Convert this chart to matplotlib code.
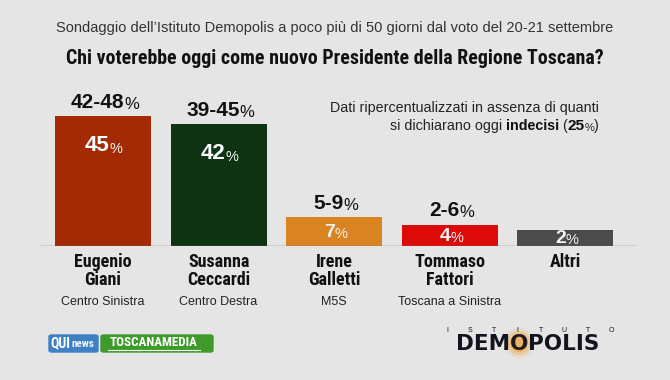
import matplotlib.pyplot as plt
import matplotlib.patches as mpatches
from matplotlib import font_manager as fm
from matplotlib.text import Annotation
import numpy as np

plt.rcParams['font.family'] = ['Liberation Sans', 'DejaVu Sans']

# dati sondaggio Demopolis - Regionali Toscana
candidati = ['Eugenio\nGiani', 'Susanna\nCeccardi', 'Irene\nGalletti', 'Tommaso\nFattori', 'Altri']
coalizioni = ['Centro Sinistra', 'Centro Destra', 'M5S', 'Toscana a Sinistra', '']
stima = [45, 42, 7, 4, 2]
forbice_min = [42, 39, 5, 2, None]
forbice_max = [48, 45, 9, 6, None]
indecisi = 25
colori = ['#A42A05', '#0E3313', '#DA8421', '#DD0A0A', '#4B4B4B']

BG = '#e5e5e5'
base = -4  # piccolo "zoccolo" sotto lo zero come nell'originale


def font_condensato(peso=700):
    # cerca un font bold stretto (tipo Helvetica Condensed) tra quelli installati
    scelte = []
    for f in fm.fontManager.ttflist:
        w = f.weight if isinstance(f.weight, int) else fm.weight_dict.get(f.weight, 400)
        s = f.stretch if isinstance(f.stretch, int) else fm.stretch_dict.get(f.stretch, 500)
        stretto = s < 500 or 'Narrow' in f.name or 'Condensed' in f.name
        if stretto and f.style == 'normal':
            pref = 0 if 'Liberation' in f.name else (1 if 'Roboto' in f.name else 2)
            scelte.append((abs(w - peso), pref, f.fname))
    if scelte:
        scelte.sort()
        return fm.FontProperties(fname=scelte[0][2])
    return fm.FontProperties(family='Liberation Sans', weight='bold')


COND = font_condensato()

fig = plt.figure(figsize=(6.7, 3.8), dpi=100)
fig.patch.set_facecolor(BG)
renderer = fig.canvas.get_renderer()


def adatta(t, larghezza):
    # scala la dimensione del testo per ottenere la larghezza voluta (px)
    w = t.get_window_extent(renderer).width
    t.set_fontsize(t.get_fontsize() * larghezza / w)


def accanto(testo, rif, xy, **kw):
    # testo agganciato a un altro testo, a livello figura
    a = Annotation(testo, xy=xy, xycoords=rif, textcoords='offset points',
                   annotation_clip=False, **kw)
    a.set_zorder(5)
    return fig.add_artist(a)


# asse barre: da x=40px a 637px, linea di base a y=246px
ax = fig.add_axes([40 / 670, (380 - 246) / 380, 597 / 670, 186 / 380])
ax.set_facecolor(BG)
x = np.arange(len(candidati))
ax.bar(x, np.array(stima) - base, bottom=base, width=0.83, color=colori, zorder=2)
ax.axhline(base, color='#707070', lw=1.0, zorder=3)
ax.set_xlim(-0.545, 4.62)
ax.set_ylim(base, base + 186 / 2.65)
ax.axis('off')

for i, v in enumerate(stima):
    # forbice sopra la barra
    if forbice_min[i] is not None:
        t = ax.annotate(f'{forbice_min[i]}-{forbice_max[i]}', xy=(i, v), xytext=(-4, 6),
                        textcoords='offset points', ha='center', va='baseline',
                        fontsize=15, fontweight='bold', color='#111111',
                        annotation_clip=False)
        ax.annotate('%', xy=(1, 0), xycoords=t, ha='left', va='bottom',
                    fontsize=12, color='#111111')
    # stima dentro la barra
    if v > 20:
        t = ax.annotate(f'{v}', xy=(i, v), xytext=(-4, -25), textcoords='offset points',
                        ha='center', va='baseline', fontsize=16, fontweight='bold',
                        color='white')
    else:
        t = ax.annotate(f'{v}', xy=(i, (v + base) / 2), xytext=(-3.5, -0.5),
                        textcoords='offset points', ha='center', va='center',
                        fontsize=14, fontweight='bold', color='#f4f4f4')
    ax.annotate('%', xy=(1, 0), xycoords=t, ha='left', va='bottom',
                fontsize=10.5, color='#f4f4f4')

    # nome candidato e coalizione
    ax.annotate(candidati[i], xy=(i, base), xytext=(0, -5), textcoords='offset points',
                ha='center', va='top', fontproperties=COND, fontsize=13,
                color='#111111', linespacing=0.98, annotation_clip=False)
    if coalizioni[i]:
        ax.annotate(coalizioni[i], xy=(i, base), xytext=(0, -42.5), textcoords='offset points',
                    ha='center', va='baseline', fontsize=9, color='#222222',
                    annotation_clip=False)

# titoli
sub = fig.text(0.5, (380 - 31.7) / 380,
               "Sondaggio dell\u2019Istituto Demopolis a poco più di 50 giorni dal voto del 20-21 settembre",
               ha='center', va='baseline', fontsize=9.5, color='#333333')
adatta(sub, 556)
tit = fig.text(0.5, (380 - 64) / 380, 'Chi voterebbe oggi come nuovo Presidente della Regione Toscana?',
               ha='center', va='baseline', fontproperties=COND, fontsize=15, color='#111111')
adatta(tit, 535)

# nota indecisi
nota = fig.text(599 / 670, (380 - 111.7) / 380, 'Dati ripercentualizzati in assenza di quanti',
                ha='right', va='baseline', fontsize=9.5, color='#222222')
adatta(nota, 266)
fs_nota = nota.get_fontsize()
pezzi = [(')', 'normal', 1.0, 0), ('%', 'normal', 0.78, 0), (str(indecisi), 'bold', 1.08, 0),
         ('(', 'normal', 1.0, 0), ('indecisi', 'bold', 1.0, -2.5),
         ('si dichiarano oggi', 'normal', 1.0, -2.5)]
prev = None
for testo, peso, scala, gap in pezzi:
    colore = '#111111' if peso == 'bold' else '#222222'
    if prev is None:
        prev = fig.text(599 / 670, (380 - 132.7) / 380, testo, ha='right', va='bottom',
                        fontsize=fs_nota * scala, fontweight=peso, color=colore)
    else:
        prev = accanto(testo, prev, (0, 0), xytext=(gap, 0), ha='right', va='bottom',
                       fontsize=fs_nota * scala, fontweight=peso, color=colore)


# loghi in basso
def px(xp, yp):
    return xp / 670, (380 - yp) / 380


qx, qy = px(49, 352)
fig.patches.append(mpatches.FancyBboxPatch((qx, qy), 49 / 670, 17 / 380,
                                           boxstyle='round,pad=0,rounding_size=0.004',
                                           transform=fig.transFigure, color='#3f80c4'))
qui = fig.text(*px(50.5, 343.5), 'QUI', ha='left', va='center', fontproperties=COND,
               fontsize=10, color='white', zorder=5)
accanto('news', qui, (1, 0.12), xytext=(0.5, 0), ha='left', va='bottom',
        fontproperties=COND, fontsize=8, color='#eef4fb')
tx, ty = px(101, 352)
fig.patches.append(mpatches.FancyBboxPatch((tx, ty), 112 / 670, 17 / 380,
                                           boxstyle='round,pad=0,rounding_size=0.004',
                                           transform=fig.transFigure, color='#3e9b2b'))
tm = fig.text(*px(154, 342.5), 'TOSCANAMEDIA', ha='center', va='center',
              fontproperties=COND, fontsize=9, color='white', zorder=5)
adatta(tm, 88)
fig.add_artist(plt.Line2D([108 / 670, 200 / 670], [(380 - 349.5) / 380] * 2,
                          transform=fig.transFigure, color='white', lw=0.8, zorder=5))

# logo Demopolis
for r, a in [(15, 0.15), (12, 0.3), (9, 0.55)]:
    fig.patches.append(mpatches.Ellipse(px(519, 343), 2 * r / 670, 2 * r / 380,
                                        transform=fig.transFigure, color='#f0a030',
                                        alpha=a, lw=0))
o = fig.text(*px(519, 350), 'O', ha='center', va='baseline', fontsize=15.5,
             fontweight='bold', family='DejaVu Sans', color='#1c1a22', zorder=5)
accanto('DEM', o, (0, 0), xytext=(0, 0), ha='right', va='bottom', fontsize=15.5,
        fontweight='bold', family='DejaVu Sans', color='#141420')
accanto('POLIS', o, (1, 0), xytext=(0, 0), ha='left', va='bottom', fontsize=15.5,
        fontweight='bold', family='DejaVu Sans', color='#141420')
for lettera, xp in zip('ISTITUTO', np.linspace(447, 611, 8)):
    fig.text(*px(xp, 331), lettera, ha='center', va='center', fontsize=5,
             color='#141420', zorder=5)

fig.savefig('out.png', dpi=100, facecolor=BG)
